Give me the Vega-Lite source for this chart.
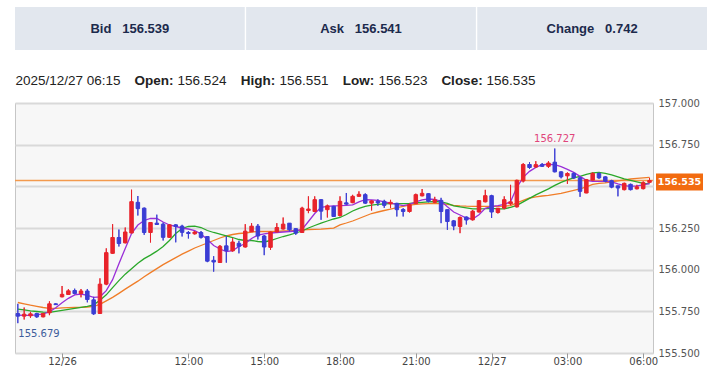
{
  "$schema": "https://vega.github.io/schema/vega-lite/v6.json",
  "background": "white",
  "padding": {"left": 13, "top": 7, "right": 0, "bottom": 0},
  "config": {"view": {"stroke": null}},
  "datasets": {
    "k": [
      {"i":0,"o":155.737,"h":155.795,"l":155.679,"c":155.721,"m1":155.727,"m2":155.763,"m3":155.803},
      {"i":1,"o":155.721,"h":155.773,"l":155.701,"c":155.733,"m1":155.726,"m2":155.759,"m3":155.795},
      {"i":2,"o":155.723,"h":155.747,"l":155.711,"c":155.735,"m1":155.726,"m2":155.753,"m3":155.787},
      {"i":3,"o":155.737,"h":155.741,"l":155.711,"c":155.717,"m1":155.729,"m2":155.749,"m3":155.780},
      {"i":4,"o":155.717,"h":155.741,"l":155.714,"c":155.737,"m1":155.735,"m2":155.745,"m3":155.773},
      {"i":5,"o":155.741,"h":155.810,"l":155.727,"c":155.795,"m1":155.747,"m2":155.744,"m3":155.768},
      {"i":6,"o":155.795,"h":155.798,"l":155.789,"c":155.790,"m1":155.771,"m2":155.750,"m3":155.768},
      {"i":7,"o":155.837,"h":155.902,"l":155.834,"c":155.852,"m1":155.801,"m2":155.756,"m3":155.771},
      {"i":8,"o":155.851,"h":155.883,"l":155.848,"c":155.873,"m1":155.828,"m2":155.762,"m3":155.772},
      {"i":9,"o":155.875,"h":155.886,"l":155.852,"c":155.857,"m1":155.849,"m2":155.768,"m3":155.773},
      {"i":10,"o":155.857,"h":155.884,"l":155.834,"c":155.872,"m1":155.854,"m2":155.774,"m3":155.774},
      {"i":11,"o":155.872,"h":155.884,"l":155.804,"c":155.821,"m1":155.846,"m2":155.780,"m3":155.776},
      {"i":12,"o":155.819,"h":155.837,"l":155.729,"c":155.735,"m1":155.834,"m2":155.789,"m3":155.780},
      {"i":13,"o":155.737,"h":155.948,"l":155.735,"c":155.913,"m1":155.837,"m2":155.816,"m3":155.792},
      {"i":14,"o":155.913,"h":156.128,"l":155.907,"c":156.102,"m1":155.874,"m2":155.849,"m3":155.813},
      {"i":15,"o":156.098,"h":156.273,"l":156.096,"c":156.193,"m1":155.940,"m2":155.892,"m3":155.834},
      {"i":16,"o":156.193,"h":156.241,"l":156.139,"c":156.157,"m1":156.036,"m2":155.934,"m3":155.858},
      {"i":17,"o":156.161,"h":156.253,"l":156.158,"c":156.226,"m1":156.127,"m2":155.973,"m3":155.883},
      {"i":18,"o":156.220,"h":156.480,"l":156.219,"c":156.408,"m1":156.217,"m2":156.006,"m3":155.907},
      {"i":19,"o":156.404,"h":156.442,"l":156.325,"c":156.366,"m1":156.268,"m2":156.039,"m3":155.931},
      {"i":20,"o":156.369,"h":156.373,"l":156.209,"c":156.223,"m1":156.295,"m2":156.066,"m3":155.958},
      {"i":21,"o":156.223,"h":156.286,"l":156.163,"c":156.283,"m1":156.307,"m2":156.087,"m3":155.982},
      {"i":22,"o":156.279,"h":156.330,"l":156.268,"c":156.271,"m1":156.307,"m2":156.111,"m3":156.006},
      {"i":23,"o":156.273,"h":156.283,"l":156.175,"c":156.194,"m1":156.286,"m2":156.139,"m3":156.030},
      {"i":24,"o":156.194,"h":156.273,"l":156.190,"c":156.269,"m1":156.268,"m2":156.175,"m3":156.051},
      {"i":25,"o":156.269,"h":156.273,"l":156.164,"c":156.259,"m1":156.259,"m2":156.217,"m3":156.072},
      {"i":26,"o":156.261,"h":156.269,"l":156.199,"c":156.224,"m1":156.250,"m2":156.247,"m3":156.093},
      {"i":27,"o":156.223,"h":156.232,"l":156.187,"c":156.217,"m1":156.244,"m2":156.259,"m3":156.111},
      {"i":28,"o":156.215,"h":156.232,"l":156.211,"c":156.226,"m1":156.235,"m2":156.261,"m3":156.130},
      {"i":29,"o":156.223,"h":156.232,"l":156.187,"c":156.194,"m1":156.214,"m2":156.253,"m3":156.145},
      {"i":30,"o":156.199,"h":156.202,"l":156.045,"c":156.051,"m1":156.181,"m2":156.235,"m3":156.160},
      {"i":31,"o":156.056,"h":156.081,"l":155.988,"c":156.046,"m1":156.145,"m2":156.223,"m3":156.175},
      {"i":32,"o":156.043,"h":156.148,"l":156.042,"c":156.140,"m1":156.124,"m2":156.213,"m3":156.190},
      {"i":33,"o":156.143,"h":156.202,"l":156.042,"c":156.114,"m1":156.108,"m2":156.203,"m3":156.202},
      {"i":34,"o":156.113,"h":156.189,"l":156.108,"c":156.166,"m1":156.114,"m2":156.193,"m3":156.211},
      {"i":35,"o":156.158,"h":156.173,"l":156.098,"c":156.140,"m1":156.139,"m2":156.181,"m3":156.217},
      {"i":36,"o":156.136,"h":156.273,"l":156.133,"c":156.231,"m1":156.157,"m2":156.175,"m3":156.220},
      {"i":37,"o":156.227,"h":156.279,"l":156.226,"c":156.261,"m1":156.187,"m2":156.175,"m3":156.226},
      {"i":38,"o":156.261,"h":156.274,"l":156.181,"c":156.202,"m1":156.208,"m2":156.169,"m3":156.229},
      {"i":39,"o":156.202,"h":156.208,"l":156.087,"c":156.136,"m1":156.215,"m2":156.166,"m3":156.229},
      {"i":40,"o":156.134,"h":156.229,"l":156.119,"c":156.226,"m1":156.220,"m2":156.175,"m3":156.229},
      {"i":41,"o":156.226,"h":156.279,"l":156.223,"c":156.253,"m1":156.223,"m2":156.187,"m3":156.230},
      {"i":42,"o":156.244,"h":156.313,"l":156.241,"c":156.273,"m1":156.226,"m2":156.199,"m3":156.232},
      {"i":43,"o":156.279,"h":156.280,"l":156.229,"c":156.239,"m1":156.229,"m2":156.209,"m3":156.233},
      {"i":44,"o":156.246,"h":156.249,"l":156.209,"c":156.219,"m1":156.232,"m2":156.220,"m3":156.235},
      {"i":45,"o":156.223,"h":156.377,"l":156.220,"c":156.369,"m1":156.241,"m2":156.232,"m3":156.239},
      {"i":46,"o":156.355,"h":156.440,"l":156.339,"c":156.364,"m1":156.289,"m2":156.250,"m3":156.241},
      {"i":47,"o":156.349,"h":156.440,"l":156.345,"c":156.420,"m1":156.337,"m2":156.265,"m3":156.242},
      {"i":48,"o":156.420,"h":156.422,"l":156.299,"c":156.351,"m1":156.374,"m2":156.279,"m3":156.243},
      {"i":49,"o":156.360,"h":156.390,"l":156.313,"c":156.383,"m1":156.380,"m2":156.292,"m3":156.246},
      {"i":50,"o":156.380,"h":156.383,"l":156.316,"c":156.319,"m1":156.383,"m2":156.304,"m3":156.249},
      {"i":51,"o":156.325,"h":156.440,"l":156.319,"c":156.410,"m1":156.384,"m2":156.313,"m3":156.269},
      {"i":52,"o":156.401,"h":156.460,"l":156.390,"c":156.393,"m1":156.386,"m2":156.331,"m3":156.280},
      {"i":53,"o":156.402,"h":156.449,"l":156.399,"c":156.440,"m1":156.389,"m2":156.352,"m3":156.292},
      {"i":54,"o":156.440,"h":156.470,"l":156.437,"c":156.452,"m1":156.407,"m2":156.368,"m3":156.307},
      {"i":55,"o":156.450,"h":156.458,"l":156.395,"c":156.399,"m1":156.420,"m2":156.380,"m3":156.322},
      {"i":56,"o":156.399,"h":156.416,"l":156.355,"c":156.413,"m1":156.419,"m2":156.387,"m3":156.337},
      {"i":57,"o":156.410,"h":156.422,"l":156.383,"c":156.401,"m1":156.416,"m2":156.392,"m3":156.346},
      {"i":58,"o":156.410,"h":156.419,"l":156.371,"c":156.386,"m1":156.407,"m2":156.395,"m3":156.355},
      {"i":59,"o":156.395,"h":156.419,"l":156.369,"c":156.404,"m1":156.399,"m2":156.396,"m3":156.363},
      {"i":60,"o":156.398,"h":156.401,"l":156.319,"c":156.360,"m1":156.392,"m2":156.396,"m3":156.372},
      {"i":61,"o":156.361,"h":156.369,"l":156.319,"c":156.349,"m1":156.384,"m2":156.396,"m3":156.380},
      {"i":62,"o":156.349,"h":156.399,"l":156.343,"c":156.390,"m1":156.392,"m2":156.398,"m3":156.387},
      {"i":63,"o":156.396,"h":156.456,"l":156.395,"c":156.450,"m1":156.407,"m2":156.401,"m3":156.392},
      {"i":64,"o":156.443,"h":156.484,"l":156.440,"c":156.458,"m1":156.419,"m2":156.404,"m3":156.395},
      {"i":65,"o":156.456,"h":156.458,"l":156.404,"c":156.410,"m1":156.424,"m2":156.407,"m3":156.396},
      {"i":66,"o":156.404,"h":156.437,"l":156.399,"c":156.419,"m1":156.422,"m2":156.409,"m3":156.396},
      {"i":67,"o":156.416,"h":156.431,"l":156.279,"c":156.349,"m1":156.410,"m2":156.407,"m3":156.396},
      {"i":68,"o":156.360,"h":156.361,"l":156.239,"c":156.289,"m1":156.377,"m2":156.398,"m3":156.392},
      {"i":69,"o":156.293,"h":156.298,"l":156.237,"c":156.262,"m1":156.346,"m2":156.383,"m3":156.386},
      {"i":70,"o":156.259,"h":156.319,"l":156.219,"c":156.313,"m1":156.328,"m2":156.377,"m3":156.383},
      {"i":71,"o":156.316,"h":156.319,"l":156.271,"c":156.298,"m1":156.310,"m2":156.371,"m3":156.381},
      {"i":72,"o":156.299,"h":156.358,"l":156.295,"c":156.351,"m1":156.304,"m2":156.365,"m3":156.380},
      {"i":73,"o":156.346,"h":156.416,"l":156.343,"c":156.414,"m1":156.330,"m2":156.365,"m3":156.380},
      {"i":74,"o":156.407,"h":156.479,"l":156.404,"c":156.444,"m1":156.368,"m2":156.366,"m3":156.380},
      {"i":75,"o":156.444,"h":156.449,"l":156.310,"c":156.346,"m1":156.380,"m2":156.368,"m3":156.380},
      {"i":76,"o":156.343,"h":156.370,"l":156.337,"c":156.369,"m1":156.384,"m2":156.365,"m3":156.380},
      {"i":77,"o":156.369,"h":156.440,"l":156.363,"c":156.420,"m1":156.392,"m2":156.365,"m3":156.381},
      {"i":78,"o":156.395,"h":156.509,"l":156.386,"c":156.407,"m1":156.407,"m2":156.374,"m3":156.384},
      {"i":79,"o":156.377,"h":156.540,"l":156.373,"c":156.536,"m1":156.494,"m2":156.386,"m3":156.401},
      {"i":80,"o":156.532,"h":156.639,"l":156.524,"c":156.631,"m1":156.554,"m2":156.407,"m3":156.416},
      {"i":81,"o":156.631,"h":156.645,"l":156.604,"c":156.613,"m1":156.590,"m2":156.428,"m3":156.430},
      {"i":82,"o":156.616,"h":156.651,"l":156.610,"c":156.630,"m1":156.614,"m2":156.449,"m3":156.437},
      {"i":83,"o":156.631,"h":156.640,"l":156.616,"c":156.620,"m1":156.630,"m2":156.467,"m3":156.442},
      {"i":84,"o":156.620,"h":156.651,"l":156.610,"c":156.640,"m1":156.631,"m2":156.485,"m3":156.446},
      {"i":85,"o":156.645,"h":156.727,"l":156.584,"c":156.587,"m1":156.630,"m2":156.506,"m3":156.452},
      {"i":86,"o":156.587,"h":156.590,"l":156.548,"c":156.557,"m1":156.618,"m2":156.524,"m3":156.458},
      {"i":87,"o":156.563,"h":156.584,"l":156.515,"c":156.577,"m1":156.602,"m2":156.539,"m3":156.467},
      {"i":88,"o":156.578,"h":156.584,"l":156.544,"c":156.550,"m1":156.584,"m2":156.551,"m3":156.476},
      {"i":89,"o":156.551,"h":156.560,"l":156.437,"c":156.470,"m1":156.560,"m2":156.560,"m3":156.485},
      {"i":90,"o":156.460,"h":156.544,"l":156.459,"c":156.540,"m1":156.536,"m2":156.572,"m3":156.497},
      {"i":91,"o":156.537,"h":156.584,"l":156.536,"c":156.578,"m1":156.530,"m2":156.581,"m3":156.512},
      {"i":92,"o":156.577,"h":156.584,"l":156.545,"c":156.551,"m1":156.530,"m2":156.584,"m3":156.518},
      {"i":93,"o":156.557,"h":156.560,"l":156.524,"c":156.531,"m1":156.530,"m2":156.578,"m3":156.521},
      {"i":94,"o":156.534,"h":156.539,"l":156.489,"c":156.495,"m1":156.527,"m2":156.569,"m3":156.527},
      {"i":95,"o":156.503,"h":156.504,"l":156.440,"c":156.490,"m1":156.515,"m2":156.557,"m3":156.533},
      {"i":96,"o":156.480,"h":156.522,"l":156.476,"c":156.518,"m1":156.504,"m2":156.545,"m3":156.539},
      {"i":97,"o":156.512,"h":156.516,"l":156.476,"c":156.480,"m1":156.500,"m2":156.536,"m3":156.544},
      {"i":98,"o":156.485,"h":156.509,"l":156.482,"c":156.497,"m1":156.503,"m2":156.527,"m3":156.548},
      {"i":99,"o":156.486,"h":156.530,"l":156.482,"c":156.522,"m1":156.509,"m2":156.518,"m3":156.551},
      {"i":100,"o":156.524,"h":156.551,"l":156.523,"c":156.535,"m1":156.516,"m2":156.516,"m3":156.554}
    ]
  },
  "vconcat": [
    {
      "width": 692,
      "height": 43,
      "data": {"values": [{"k": "Bid", "v": "156.539"}, {"k": "Ask", "v": "156.541"}, {"k": "Change", "v": "0.742"}]},
      "transform": [{"calculate": "datum.k + '\u00a0\u00a0\u00a0' + datum.v", "as": "t"}],
      "encoding": {
        "x": {"field": "k", "type": "nominal", "sort": null, "scale": {"paddingInner": 0.006, "paddingOuter": 0}, "axis": null}
      },
      "layer": [
        {"mark": {"type": "rect", "color": "#e2e7ee"}},
        {"mark": {"type": "text", "font": "Liberation Sans", "fontWeight": "bold", "fontSize": 13, "color": "#1c2a4c"},
         "encoding": {"text": {"field": "t"}}}
      ]
    },
    {
      "spacing": 13,
      "hconcat": [
        {"width": 106, "height": 29, "data": {"values": [{"t": "2025/12/27 06:15"}]},
         "mark": {"type": "text", "font": "Liberation Sans", "fontSize": 13.5, "color": "#222222", "dy": 7.5},
         "encoding": {"text": {"field": "t"}}},
        {"spacing": 3.5, "hconcat": [
          {"width": 40, "height": 29, "data": {"values": [{"t": "Open:"}]},
           "mark": {"type": "text", "font": "Liberation Sans", "fontWeight": "bold", "fontSize": 13.5, "color": "#222222", "dy": 7.5},
           "encoding": {"text": {"field": "t"}}},
          {"width": 49, "height": 29, "data": {"values": [{"t": "156.524"}]},
           "mark": {"type": "text", "font": "Liberation Sans", "fontSize": 13.5, "color": "#222222", "dy": 7.5},
           "encoding": {"text": {"field": "t"}}}
        ]},
        {"spacing": 3.5, "hconcat": [
          {"width": 34, "height": 29, "data": {"values": [{"t": "High:"}]},
           "mark": {"type": "text", "font": "Liberation Sans", "fontWeight": "bold", "fontSize": 13.5, "color": "#222222", "dy": 7.5},
           "encoding": {"text": {"field": "t"}}},
          {"width": 49, "height": 29, "data": {"values": [{"t": "156.551"}]},
           "mark": {"type": "text", "font": "Liberation Sans", "fontSize": 13.5, "color": "#222222", "dy": 7.5},
           "encoding": {"text": {"field": "t"}}}
        ]},
        {"spacing": 3.5, "hconcat": [
          {"width": 31, "height": 29, "data": {"values": [{"t": "Low:"}]},
           "mark": {"type": "text", "font": "Liberation Sans", "fontWeight": "bold", "fontSize": 13.5, "color": "#222222", "dy": 7.5},
           "encoding": {"text": {"field": "t"}}},
          {"width": 49, "height": 29, "data": {"values": [{"t": "156.523"}]},
           "mark": {"type": "text", "font": "Liberation Sans", "fontSize": 13.5, "color": "#222222", "dy": 7.5},
           "encoding": {"text": {"field": "t"}}}
        ]},
        {"spacing": 3.5, "hconcat": [
          {"width": 42, "height": 29, "data": {"values": [{"t": "Close:"}]},
           "mark": {"type": "text", "font": "Liberation Sans", "fontWeight": "bold", "fontSize": 13.5, "color": "#222222", "dy": 7.5},
           "encoding": {"text": {"field": "t"}}},
          {"width": 49, "height": 29, "data": {"values": [{"t": "156.535"}]},
           "mark": {"type": "text", "font": "Liberation Sans", "fontSize": 13.5, "color": "#222222", "dy": 7.5},
           "encoding": {"text": {"field": "t"}}}
        ]}
      ]
    },
    {
      "width": 638,
      "height": 250,
      "view": {"fill": "#f7f7f7", "stroke": "#c6c6c6"},
      "layer": [
        {
          "data": {"name": "k"},
          "mark": {"type": "rule", "strokeWidth": 1},
          "encoding": {
            "x": {"field": "i", "type": "quantitative", "scale": {"domain": [-0.45, 100.55], "nice": false, "zero": false, "padding": 0},
              "axis": {"values": [7, 27, 39, 51, 63, 75, 87, 99],
                "labelExpr": "datum.value==7?'12/26':datum.value==27?'12:00':datum.value==39?'15:00':datum.value==51?'18:00':datum.value==63?'21:00':datum.value==75?'12/27':datum.value==87?'03:00':'06:00'",
                "grid": false, "domain": false, "ticks": true, "tickSize": 5, "tickColor": "#999999", "labelPadding": -1.5,
                "labelFont": "DejaVu Sans", "labelFontSize": 10, "labelColor": "#444444", "title": null}},
            "y": {"field": "l", "type": "quantitative", "scale": {"domain": [155.5, 157.0], "nice": false, "zero": false, "padding": 0},
              "axis": {"orient": "right", "values": [155.5, 155.75, 156, 156.25, 156.5, 156.75, 157], "format": ".3f",
                "labelExpr": "datum.value == 156.5 ? '' : datum.label", "grid": true, "gridColor": "#d9d9d9", "gridWidth": 2,
                "domain": false, "ticks": false, "labelPadding": 5, "labelFont": "DejaVu Sans", "labelFontSize": 10,
                "labelColor": "#555555", "title": null}},
            "y2": {"field": "h"},
            "color": {"condition": {"test": "datum.c >= datum.o", "value": "#e8232b"}, "value": "#3b3dd4"}
          }
        },
        {
          "data": {"values": [{}]},
          "mark": {"type": "rule", "color": "#f39a4e", "strokeWidth": 1.5},
          "encoding": {
            "y": {"datum": 156.535, "type": "quantitative"}
          }
        },
        {
          "data": {"name": "k"},
          "mark": {"type": "line", "color": "#f07d28", "strokeWidth": 1.3},
          "encoding": {
            "x": {"field": "i", "type": "quantitative"},
            "y": {"field": "m3", "type": "quantitative"}
          }
        },
        {
          "data": {"name": "k"},
          "mark": {"type": "line", "color": "#2aa82a", "strokeWidth": 1.3},
          "encoding": {
            "x": {"field": "i", "type": "quantitative"},
            "y": {"field": "m2", "type": "quantitative"}
          }
        },
        {
          "data": {"name": "k"},
          "mark": {"type": "line", "color": "#9a2fd8", "strokeWidth": 1.3},
          "encoding": {
            "x": {"field": "i", "type": "quantitative"},
            "y": {"field": "m1", "type": "quantitative"}
          }
        },
        {
          "data": {"name": "k"},
          "mark": {"type": "rule", "strokeWidth": 1},
          "encoding": {
            "x": {"field": "i", "type": "quantitative"},
            "y": {"field": "l", "type": "quantitative"},
            "y2": {"field": "h"},
            "color": {"condition": {"test": "datum.c >= datum.o", "value": "#e8232b"}, "value": "#3b3dd4"}
          }
        },
        {
          "data": {"name": "k"},
          "mark": {"type": "bar", "width": 3.5, "strokeWidth": 1},
          "encoding": {
            "x": {"field": "i", "type": "quantitative"},
            "y": {"field": "o", "type": "quantitative"},
            "y2": {"field": "c"},
            "color": {"condition": {"test": "datum.c >= datum.o", "value": "#e8232b"}, "value": "#3b3dd4"},
            "stroke": {"condition": {"test": "datum.c >= datum.o", "value": "#e8232b"}, "value": "#3b3dd4"}
          }
        },
        {
          "data": {"name": "k"},
          "transform": [{"filter": "datum.i == 85"}],
          "mark": {"type": "text", "align": "center", "baseline": "middle", "dy": -10, "font": "DejaVu Sans", "fontSize": 10, "color": "#e0457b"},
          "encoding": {
            "x": {"field": "i", "type": "quantitative"},
            "y": {"field": "h", "type": "quantitative"},
            "text": {"field": "h", "type": "quantitative", "format": ".3f"}
          }
        },
        {
          "data": {"name": "k"},
          "transform": [{"filter": "datum.i == 0"}],
          "mark": {"type": "text", "align": "left", "baseline": "middle", "dy": 11, "dx": 0.5, "font": "DejaVu Sans", "fontSize": 10, "color": "#3d5c9b"},
          "encoding": {
            "x": {"field": "i", "type": "quantitative"},
            "y": {"field": "l", "type": "quantitative"},
            "text": {"field": "l", "type": "quantitative", "format": ".3f"}
          }
        },
        {
          "data": {"values": [{}]},
          "mark": {"type": "point", "shape": "M0.06,-0.14H1V0.2H0.06Z", "size": 10000, "filled": true, "color": "#f26b10", "opacity": 1, "strokeWidth": 0},
          "encoding": {
            "x": {"value": "width"},
            "y": {"datum": 156.535, "type": "quantitative"}
          }
        },
        {
          "data": {"values": [{"t": "156.535"}]},
          "mark": {"type": "text", "align": "center", "baseline": "middle", "dx": 26.5, "dy": 1.5, "font": "DejaVu Sans", "fontWeight": "bold", "fontSize": 9.5, "color": "#ffffff"},
          "encoding": {
            "x": {"value": "width"},
            "y": {"datum": 156.535, "type": "quantitative"},
            "text": {"field": "t"}
          }
        }
      ]
    }
  ],
  "spacing": 9
}
